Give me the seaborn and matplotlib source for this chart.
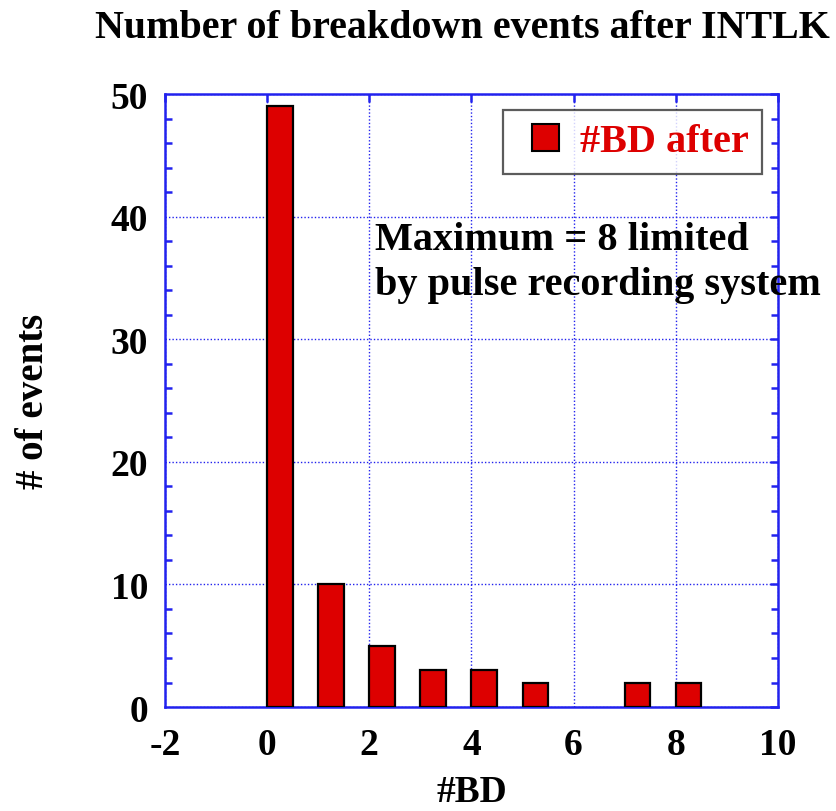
import numpy as np
import pandas as pd
import matplotlib
matplotlib.use("Agg")
import matplotlib.pyplot as plt
from matplotlib.patches import Patch, Rectangle
from matplotlib.legend_handler import HandlerPatch
from matplotlib.ticker import MultipleLocator
import seaborn as sns

# Breakdown counts following an interlock
bd_values = [0, 1, 2, 3, 4, 5, 6, 7, 8]
event_counts = [49, 10, 5, 3, 3, 2, 0, 2, 2]
series_label = "#BD after"
title_text = "Number of breakdown events after INTLK"
note_text = "Maximum = 8 limited\nby pulse recording system"

sns.set_theme(style="white")
plt.rcParams["font.family"] = ["Liberation Serif", "DejaVu Serif"]
plt.rcParams["font.weight"] = "bold"
plt.rcParams["text.color"] = "black"
plt.rcParams["axes.labelcolor"] = "black"
plt.rcParams["axes.unicode_minus"] = False

frame_blue = "#2222ee"
bar_red = "#dd0000"
bar_w = 0.5

df = pd.DataFrame({"bd": bd_values, "count": event_counts})
df = df[df["count"] > 0]

fig = plt.figure(figsize=(8.37, 8.12), dpi=100)
ax = fig.add_axes([0.197, 0.128, 0.7325, 0.755])

# bars start at each integer and span half a unit
sns.barplot(x=df["bd"] + bar_w / 2, y=df["count"], native_scale=True,
            width=bar_w, color=bar_red, saturation=1,
            edgecolor="black", linewidth=1.6, ax=ax, zorder=3)

ax.set_xlim(-2, 10)
ax.set_ylim(0, 50)
ax.xaxis.set_major_locator(MultipleLocator(2))
ax.yaxis.set_major_locator(MultipleLocator(10))
ax.yaxis.set_minor_locator(MultipleLocator(2))

ax.grid(True, which="major", color=frame_blue, linestyle=(0, (1, 1.5)),
        linewidth=1.0, zorder=0)
ax.set_axisbelow(True)
for s in ax.spines.values():
    s.set_color(frame_blue)
    s.set_linewidth(1.8)
    s.set_visible(True)

ax.tick_params(axis="both", which="major", direction="in", length=6,
               width=1.8, color=frame_blue, top=True, right=True,
               labelsize=27, labelcolor="black")
ax.tick_params(axis="y", which="minor", direction="in", length=5,
               width=1.8, color=frame_blue, left=True, right=True)
ax.tick_params(axis="x", which="major", pad=14)
ax.tick_params(axis="y", which="major", pad=12)
for lab in ax.get_xticklabels() + ax.get_yticklabels():
    lab.set_fontweight("bold")

ax.set_xlabel("#BD", fontsize=27, fontweight="bold", labelpad=9)
ax.set_ylabel("# of events", fontsize=28, fontweight="bold", labelpad=42)

fig.text(0.552, 1 - 38 / 812, title_text, ha="center", va="baseline",
         fontsize=28.8, fontweight="bold")

ax.text(0.343, 0.793, note_text, transform=ax.transAxes, ha="left", va="top",
        fontsize=29, fontweight="bold", linespacing=1.28, clip_on=False)


def right_square(legend, orig_handle, xdescent, ydescent, width, height, fontsize):
    return Rectangle((width - height - xdescent, -ydescent), height, height)


handle = Patch(facecolor=bar_red, edgecolor="black", linewidth=1.5)
leg = ax.legend([handle], [series_label], loc="upper right",
                frameon=True, fancybox=False,
                edgecolor="#333333", handlelength=1.05, handleheight=0.65,
                handletextpad=0.52, borderpad=0.33, borderaxespad=0.4,
                prop={"weight": "bold", "size": 29},
                handler_map={Patch: HandlerPatch(patch_func=right_square)})
leg.get_frame().set_linewidth(1.6)
for t in leg.get_texts():
    t.set_color(bar_red)

fig.savefig("out.png", dpi=100, facecolor="white")
